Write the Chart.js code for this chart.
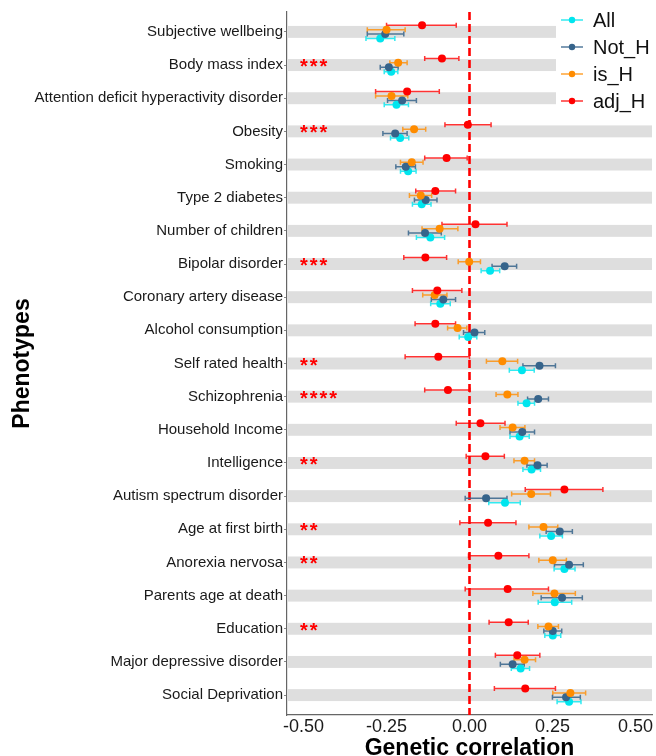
<!DOCTYPE html>
<html>
<head>
<meta charset="utf-8">
<script src="https://cdn.jsdelivr.net/npm/chart.js@4/dist/chart.umd.min.js"></script>
<style>
  html, body { margin: 0; padding: 0; background: #ffffff; }
  #wrap { width: 656px; height: 756px; }
</style>
</head>
<body>
<div id="wrap"><canvas id="c" width="656" height="756"></canvas></div>
<script>
// Phenotypes, top to bottom
const phenotypes = [
  'Subjective wellbeing', 'Body mass index', 'Attention deficit hyperactivity disorder',
  'Obesity', 'Smoking', 'Type 2 diabetes', 'Number of children', 'Bipolar disorder',
  'Coronary artery disease', 'Alcohol consumption', 'Self rated health', 'Schizophrenia',
  'Household Income', 'Intelligence', 'Autism spectrum disorder', 'Age at first birth',
  'Anorexia nervosa', 'Parents age at death', 'Education', 'Major depressive disorder',
  'Social Deprivation'
];

// Significance of the difference after adjustment
const significance = ['', '***', '', '***', '', '', '', '***', '', '', '**', '****',
  '', '**', '', '**', '**', '', '**', '', ''];

// Genetic correlation estimates and 95% confidence limits per group
const allRg = [-0.269, -0.236, -0.220, -0.209, -0.185, -0.144, -0.118, 0.062, -0.088, -0.004,
  0.158, 0.172, 0.151, 0.187, 0.107, 0.246, 0.286, 0.257, 0.251, 0.154, 0.300];
const allLo = [-0.312, -0.257, -0.257, -0.238, -0.208, -0.172, -0.160, 0.035, -0.117, -0.031,
  0.120, 0.146, 0.122, 0.161, 0.058, 0.212, 0.255, 0.207, 0.227, 0.126, 0.264];
const allHi = [-0.225, -0.216, -0.184, -0.183, -0.161, -0.116, -0.075, 0.091, -0.058, 0.022,
  0.195, 0.196, 0.180, 0.214, 0.153, 0.280, 0.318, 0.308, 0.275, 0.181, 0.336];

const notHRg = [-0.254, -0.243, -0.203, -0.224, -0.192, -0.132, -0.134, 0.106, -0.079, 0.015,
  0.211, 0.207, 0.159, 0.205, 0.050, 0.272, 0.300, 0.279, 0.251, 0.130, 0.291];
const notHLo = [-0.308, -0.269, -0.247, -0.261, -0.222, -0.166, -0.184, 0.068, -0.115, -0.018,
  0.161, 0.175, 0.122, 0.173, -0.013, 0.231, 0.256, 0.216, 0.224, 0.093, 0.250];
const notHHi = [-0.198, -0.215, -0.160, -0.188, -0.163, -0.098, -0.085, 0.142, -0.042, 0.046,
  0.259, 0.238, 0.196, 0.234, 0.113, 0.310, 0.343, 0.340, 0.278, 0.165, 0.334];

const isHRg = [-0.250, -0.215, -0.235, -0.167, -0.174, -0.147, -0.090, -0.001, -0.105, -0.036,
  0.099, 0.114, 0.130, 0.166, 0.186, 0.223, 0.251, 0.256, 0.238, 0.166, 0.304];
const isHLo = [-0.308, -0.240, -0.283, -0.201, -0.208, -0.181, -0.143, -0.034, -0.141, -0.066,
  0.051, 0.080, 0.092, 0.134, 0.127, 0.179, 0.209, 0.191, 0.206, 0.134, 0.251];
const isHHi = [-0.194, -0.188, -0.186, -0.132, -0.140, -0.114, -0.035, 0.033, -0.068, -0.008,
  0.145, 0.146, 0.167, 0.196, 0.244, 0.266, 0.292, 0.319, 0.268, 0.199, 0.350];

const adjHRg = [-0.143, -0.083, -0.188, -0.005, -0.069, -0.103, 0.018, -0.133, -0.097, -0.103,
  -0.094, -0.065, 0.033, 0.048, 0.286, 0.056, 0.087, 0.115, 0.118, 0.144, 0.168];
const adjHLo = [-0.250, -0.135, -0.283, -0.074, -0.135, -0.162, -0.083, -0.198, -0.172, -0.164,
  -0.194, -0.135, -0.040, -0.010, 0.168, -0.029, -0.003, -0.013, 0.059, 0.078, 0.075];
const adjHHi = [-0.040, -0.032, -0.091, 0.065, -0.007, -0.042, 0.113, -0.069, -0.023, -0.042,
  0.000, 0.001, 0.107, 0.105, 0.402, 0.140, 0.179, 0.238, 0.177, 0.212, 0.259];

const xTicks = [-0.50, -0.25, 0.00, 0.25, 0.50];

// Group definitions: legend order, colour and vertical dodge within a row
const groups = [
  { name: 'All',   color: '#00E5EE', bar: 'rgba(0,229,238,0.8)',   rg: allRg,  lo: allLo,  hi: allHi,  dodge: 0.2,   order: 3 },
  { name: 'Not_H', color: '#36648B', bar: 'rgba(54,100,139,0.85)', rg: notHRg, lo: notHLo, hi: notHHi, dodge: 0.067, order: 2 },
  { name: 'is_H',  color: '#FF8C00', bar: 'rgba(255,140,0,0.8)',   rg: isHRg,  lo: isHLo,  hi: isHHi,  dodge: -0.067, order: 1 },
  { name: 'adj_H', color: '#FF0000', bar: 'rgba(255,0,0,0.8)',     rg: adjHRg, lo: adjHLo, hi: adjHHi, dodge: -0.2,  order: 0 }
];

const FONT = '"Liberation Sans", Arial, Helvetica, sans-serif';

const datasets = groups.map(g => ({
  label: g.name,
  data: g.rg.map((v, i) => ({ x: v, y: i + 1 + g.dodge })),
  backgroundColor: g.color,
  borderColor: g.color,
  borderWidth: 0,
  pointRadius: 4,
  pointHoverRadius: 4,
  showLine: false,
  order: g.order
}));

// Row bands, reference line and confidence intervals beneath the points
const underlay = {
  id: 'underlay',
  beforeDatasetsDraw(chart) {
    const { ctx, chartArea, scales: { x, y } } = chart;
    ctx.save();
    // grey band on each phenotype row
    ctx.fillStyle = '#DEDEDE';
    phenotypes.forEach((p, i) => {
      const t = y.getPixelForValue(i + 1 - 0.18);
      const b = y.getPixelForValue(i + 1 + 0.18);
      ctx.fillRect(chartArea.left + 1, t, chartArea.right - chartArea.left - 1, b - t);
    });
    // dashed line at zero correlation
    const x0 = x.getPixelForValue(0);
    ctx.strokeStyle = '#FF0000';
    ctx.lineWidth = 2.6;
    ctx.setLineDash([8, 4]);
    ctx.beginPath();
    ctx.moveTo(x0, chartArea.top);
    ctx.lineTo(x0, chartArea.bottom);
    ctx.stroke();
    ctx.setLineDash([]);
    // error bars
    ctx.lineWidth = 1.5;
    groups.slice().reverse().forEach(g => {
      ctx.strokeStyle = g.bar;
      g.rg.forEach((v, i) => {
        const py = y.getPixelForValue(i + 1 + g.dodge);
        const a = x.getPixelForValue(g.lo[i]);
        const b = x.getPixelForValue(g.hi[i]);
        ctx.beginPath();
        ctx.moveTo(a, py); ctx.lineTo(b, py);
        ctx.moveTo(a, py - 2.5); ctx.lineTo(a, py + 2.5);
        ctx.moveTo(b, py - 2.5); ctx.lineTo(b, py + 2.5);
        ctx.stroke();
      });
    });
    ctx.restore();
  }
};

// Significance stars, axis titles and the legend
const overlay = {
  id: 'overlay',
  afterDraw(chart) {
    const { ctx, chartArea, scales: { y } } = chart;
    ctx.save();
    // stars
    ctx.fillStyle = '#FF0000';
    ctx.font = 'bold 20px ' + FONT;
    ctx.textAlign = 'left';
    ctx.textBaseline = 'alphabetic';
    ctx.letterSpacing = '2px';
    significance.forEach((s, i) => {
      if (!s) return;
      ctx.fillText(s, 300, y.getPixelForValue(i + 1) + 8);
    });
    ctx.letterSpacing = '0px';

    // axis titles
    ctx.fillStyle = '#000000';
    ctx.font = 'bold 23px ' + FONT;
    ctx.textAlign = 'center';
    ctx.textBaseline = 'alphabetic';
    ctx.fillText('Genetic correlation', (chartArea.left + chartArea.right) / 2, 755);
    ctx.save();
    ctx.translate(29, (chartArea.top + chartArea.bottom) / 2);
    ctx.rotate(-Math.PI / 2);
    ctx.fillText('Phenotypes', 0, 0);
    ctx.restore();

    // legend
    ctx.fillStyle = '#FFFFFF';
    ctx.fillRect(556, 0, 100, 114);
    const keyY = [20, 47, 74, 101];
    groups.forEach((g, k) => {
      const ky = keyY[k];
      ctx.strokeStyle = g.bar;
      ctx.lineWidth = 1.5;
      ctx.beginPath();
      ctx.moveTo(561, ky); ctx.lineTo(583, ky);
      ctx.stroke();
      ctx.fillStyle = g.color;
      ctx.beginPath();
      ctx.arc(572, ky, 3.2, 0, Math.PI * 2);
      ctx.fill();
      ctx.fillStyle = '#111111';
      ctx.font = '20px ' + FONT;
      ctx.textAlign = 'left';
      ctx.textBaseline = 'middle';
      ctx.fillText(g.name, 593, ky + 1);
    });
    ctx.restore();
  }
};

new Chart(document.getElementById('c'), {
  type: 'scatter',
  data: { datasets },
  options: {
    responsive: false,
    animation: false,
    events: [],
    layout: { padding: { top: 12, right: 3, left: 0, bottom: 0 } },
    plugins: { legend: { display: false }, tooltip: { enabled: false } },
    scales: {
      x: {
        type: 'linear',
        min: -0.55,
        max: 0.55,
        afterBuildTicks: s => { s.ticks = xTicks.map(v => ({ value: v })); },
        afterFit: s => { s.height = 41; },
        grid: { display: false, drawTicks: false },
        border: { display: true, color: '#666666', width: 1.2 },
        ticks: {
          padding: 1,
          color: '#1a1a1a',
          font: { family: FONT, size: 18 },
          callback: v => v.toFixed(2)
        }
      },
      y: {
        type: 'linear',
        reverse: true,
        min: 0.4,
        max: 21.6,
        afterBuildTicks: s => { s.ticks = phenotypes.map((p, i) => ({ value: i + 1 })); },
        afterFit: s => { s.width = 287; },
        grid: { drawOnChartArea: false, drawTicks: true, tickLength: 3, color: '#888888' },
        border: { display: true, color: '#666666', width: 1.2 },
        ticks: {
          padding: 1,
          color: '#1a1a1a',
          font: { family: FONT, size: 15 },
          autoSkip: false,
          callback: v => phenotypes[Math.round(v) - 1]
        }
      }
    }
  },
  plugins: [underlay, overlay]
});
</script>
</body>
</html>
